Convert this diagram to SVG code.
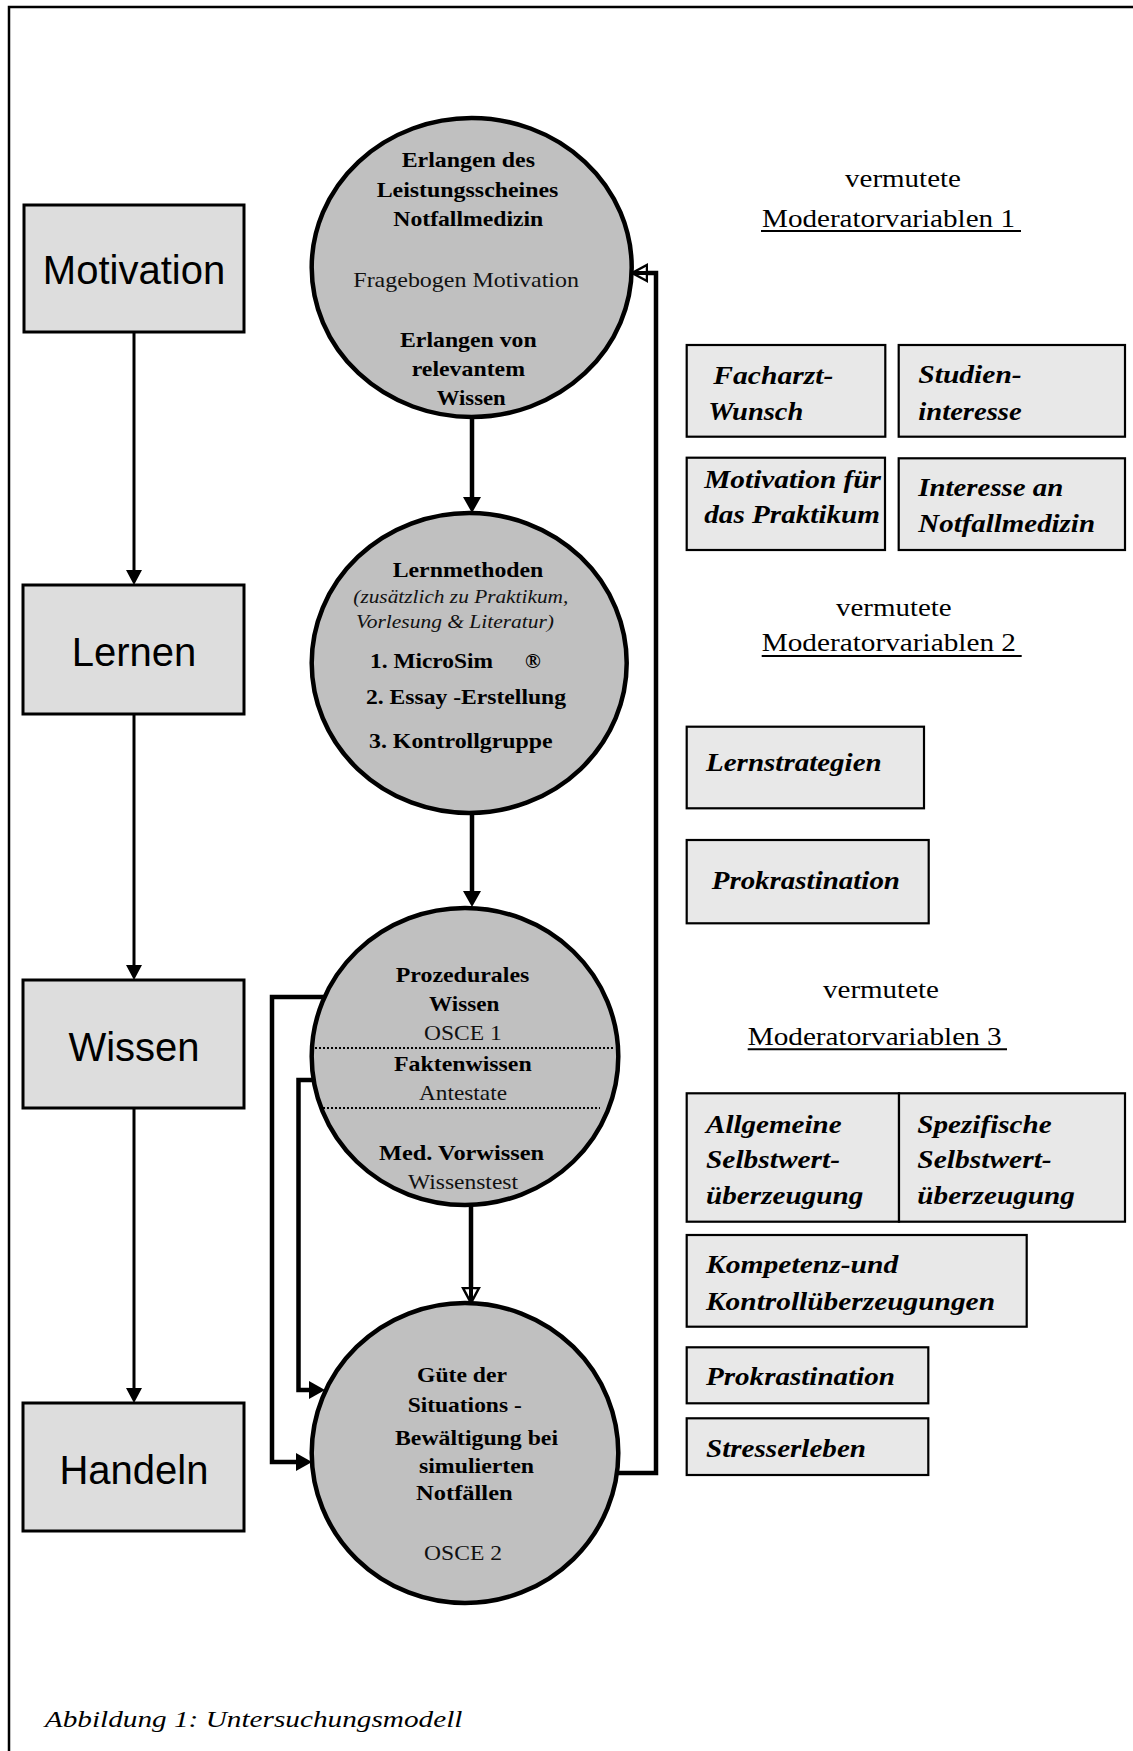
<svg xmlns="http://www.w3.org/2000/svg" width="1133" height="1751" viewBox="0 0 1133 1751">
<style>
.bg{fill:#ffffff}
.frame{fill:none;stroke:#000;stroke-width:2.5}
.lbox{fill:#dddddd;stroke:#000;stroke-width:3}
.rbox{fill:#e8e8e8;stroke:#000;stroke-width:2.2}
.circ{fill:#c0c0c0;stroke:#000;stroke-width:4.5}
.thin{fill:none;stroke:#000;stroke-width:3}
.thick{fill:none;stroke:#000;stroke-width:4.5}
.dot{fill:none;stroke:#000;stroke-width:2;stroke-dasharray:2 2}
.ul{stroke:#000;stroke-width:2}
.big{font-family:"Liberation Sans",Arial,sans-serif;font-size:40px;fill:#000;text-anchor:middle}
.cb{font-family:"Liberation Serif","Times New Roman",serif;font-size:21px;font-weight:bold;fill:#000}
.cr{font-family:"Liberation Serif","Times New Roman",serif;font-size:21px;fill:#111}
.ci{font-family:"Liberation Serif","Times New Roman",serif;font-size:19px;font-style:italic;fill:#111}
.bi{font-family:"Liberation Serif","Times New Roman",serif;font-size:26px;font-weight:bold;font-style:italic;fill:#000}
.mod{font-family:"Liberation Serif","Times New Roman",serif;font-size:26px;fill:#000}
.cap{font-family:"Liberation Serif","Times New Roman",serif;font-size:24px;font-style:italic;fill:#000}
</style>
<defs>
<marker id="aThin" markerUnits="userSpaceOnUse" markerWidth="16" markerHeight="16" viewBox="0 0 16 16" refX="0" refY="8" orient="auto">
<path d="M0,0 L15,8 L0,16 z" fill="#000"/>
</marker>
<marker id="aThick" markerUnits="userSpaceOnUse" markerWidth="17" markerHeight="20" viewBox="0 0 17 20" refX="0" refY="10" orient="auto">
<path d="M0,1 L16,10 L0,19 z" fill="#000"/>
</marker>
<marker id="aHollow" markerUnits="userSpaceOnUse" markerWidth="18" markerHeight="20" viewBox="0 0 18 20" refX="0" refY="10" orient="auto">
<path d="M1,2 L16,10 L1,18 z" fill="#fff" stroke="#000" stroke-width="2.5"/>
<path d="M0,10 L14,10" stroke="#000" stroke-width="4"/>
</marker>
</defs>
<rect class="bg" x="0" y="0" width="1133" height="1751"/>
<path class="frame" d="M9,1760 V7 H1140"/>

<g id="connectors">
<path class="thin" d="M134,332 V570" marker-end="url(#aThin)"/>
<path class="thin" d="M134,714 V965" marker-end="url(#aThin)"/>
<path class="thin" d="M134,1108 V1388" marker-end="url(#aThin)"/>
<path class="thick" d="M472,417 V497" marker-end="url(#aThick)"/>
<path class="thick" d="M472,813 V891" marker-end="url(#aThick)"/>
<path class="thick" d="M471,1205 V1287" marker-end="url(#aHollow)"/>
<path class="thick" d="M618,1473 H656 V273 H648" marker-end="url(#aHollow)"/>
<path class="thick" d="M326,997 H272 V1462 H296" marker-end="url(#aThick)"/>
<path class="thick" d="M315,1080 H298.5 V1390 H309" marker-end="url(#aThick)"/>
</g>

<g id="motivation">
<rect class="lbox" x="24" y="205" width="220" height="127"/>
<text class="big" x="134" y="284">Motivation</text>
</g>
<g id="lernen">
<rect class="lbox" x="23" y="585" width="221" height="129"/>
<text class="big" x="134" y="666">Lernen</text>
</g>
<g id="wissen">
<rect class="lbox" x="23" y="980" width="221" height="128"/>
<text class="big" x="134" y="1061">Wissen</text>
</g>
<g id="handeln">
<rect class="lbox" x="23" y="1403" width="221" height="128"/>
<text class="big" x="134" y="1484">Handeln</text>
</g>

<g id="circle1">
<ellipse class="circ" cx="471.7" cy="267.5" rx="160" ry="149.5"/>
<text class="cb" x="401.7" y="166.7" textLength="133.3" lengthAdjust="spacingAndGlyphs">Erlangen des</text>
<text class="cb" x="376.7" y="196.7" textLength="181.7" lengthAdjust="spacingAndGlyphs">Leistungsscheines</text>
<text class="cb" x="393.3" y="225.7" textLength="150" lengthAdjust="spacingAndGlyphs">Notfallmedizin</text>
<text class="cr" x="353.3" y="286.7" textLength="225.7" lengthAdjust="spacingAndGlyphs">Fragebogen Motivation</text>
<text class="cb" x="400" y="346.7" textLength="136.7" lengthAdjust="spacingAndGlyphs">Erlangen von</text>
<text class="cb" x="411.7" y="376" textLength="113.3" lengthAdjust="spacingAndGlyphs">relevantem</text>
<text class="cb" x="436.7" y="405" textLength="69" lengthAdjust="spacingAndGlyphs">Wissen</text>
</g>

<g id="circle2">
<ellipse class="circ" cx="469.2" cy="663" rx="157.5" ry="150"/>
<text class="cb" x="392.7" y="576.7" textLength="150.6" lengthAdjust="spacingAndGlyphs">Lernmethoden</text>
<text class="ci" x="353.3" y="603.3" textLength="215" lengthAdjust="spacingAndGlyphs">(zusätzlich zu Praktikum,</text>
<text class="ci" x="356" y="628.3" textLength="198" lengthAdjust="spacingAndGlyphs">Vorlesung &amp; Literatur)</text>
<text class="cb" x="370" y="668.3" textLength="123" lengthAdjust="spacingAndGlyphs">1. MicroSim</text>
<text class="cb" x="525" y="668.3">®</text>
<text class="cb" x="366" y="704" textLength="200" lengthAdjust="spacingAndGlyphs">2. Essay -Erstellung</text>
<text class="cb" x="369" y="748.3" textLength="183.7" lengthAdjust="spacingAndGlyphs">3. Kontrollgruppe</text>
</g>

<g id="circle3">
<ellipse class="circ" cx="465" cy="1056.5" rx="153.3" ry="148.5"/>
<path class="dot" d="M315,1048 H613"/>
<path class="dot" d="M323,1108 H600"/>
<text class="cb" x="395.7" y="981.7" textLength="133.6" lengthAdjust="spacingAndGlyphs">Prozedurales</text>
<text class="cb" x="429" y="1010.7" textLength="70.3" lengthAdjust="spacingAndGlyphs">Wissen</text>
<text class="cr" x="424" y="1040" textLength="77.7" lengthAdjust="spacingAndGlyphs">OSCE 1</text>
<text class="cb" x="394" y="1070.7" textLength="137.7" lengthAdjust="spacingAndGlyphs">Faktenwissen</text>
<text class="cr" x="419" y="1100" textLength="88" lengthAdjust="spacingAndGlyphs">Antestate</text>
<text class="cb" x="379" y="1160" textLength="165" lengthAdjust="spacingAndGlyphs">Med. Vorwissen</text>
<text class="cr" x="408" y="1189" textLength="110" lengthAdjust="spacingAndGlyphs">Wissenstest</text>
</g>

<g id="circle4">
<ellipse class="circ" cx="465" cy="1453" rx="153.3" ry="150"/>
<text class="cb" x="417" y="1381.7" textLength="90" lengthAdjust="spacingAndGlyphs">Güte der</text>
<text class="cb" x="407.7" y="1411.7" textLength="114" lengthAdjust="spacingAndGlyphs">Situations -</text>
<text class="cb" x="395" y="1445" textLength="163" lengthAdjust="spacingAndGlyphs">Bewältigung bei</text>
<text class="cb" x="419" y="1472.7" textLength="115" lengthAdjust="spacingAndGlyphs">simulierten</text>
<text class="cb" x="416" y="1500" textLength="96.7" lengthAdjust="spacingAndGlyphs">Notfällen</text>
<text class="cr" x="424" y="1560" textLength="78" lengthAdjust="spacingAndGlyphs">OSCE 2</text>
</g>

<g id="mod1-title">
<text class="mod" x="845" y="186.7" textLength="116" lengthAdjust="spacingAndGlyphs">vermutete</text>
<text class="mod" x="762" y="226.7" textLength="253" lengthAdjust="spacingAndGlyphs">Moderatorvariablen 1</text>
<line class="ul" x1="761" y1="231" x2="1021" y2="231"/>
</g>
<g id="facharzt">
<rect class="rbox" x="686.7" y="345" width="198.6" height="91.7"/>
<text class="bi" x="713.3" y="384" textLength="120" lengthAdjust="spacingAndGlyphs">Facharzt-</text>
<text class="bi" x="708.3" y="420" textLength="95" lengthAdjust="spacingAndGlyphs">Wunsch</text>
</g>
<g id="studien">
<rect class="rbox" x="898.7" y="345" width="226.3" height="91.7"/>
<text class="bi" x="918.3" y="383.3" textLength="103.4" lengthAdjust="spacingAndGlyphs">Studien-</text>
<text class="bi" x="918.3" y="420" textLength="103.4" lengthAdjust="spacingAndGlyphs">interesse</text>
</g>
<g id="motivation-praktikum">
<rect class="rbox" x="686.7" y="457.7" width="198.3" height="92.3"/>
<text class="bi" x="704.3" y="488.3" textLength="176.7" lengthAdjust="spacingAndGlyphs">Motivation für</text>
<text class="bi" x="704.3" y="523.3" textLength="175.7" lengthAdjust="spacingAndGlyphs">das Praktikum</text>
</g>
<g id="interesse">
<rect class="rbox" x="898.7" y="458.3" width="226.3" height="91.7"/>
<text class="bi" x="918.3" y="496" textLength="145" lengthAdjust="spacingAndGlyphs">Interesse an</text>
<text class="bi" x="918.3" y="531.7" textLength="176.7" lengthAdjust="spacingAndGlyphs">Notfallmedizin</text>
</g>

<g id="mod2-title">
<text class="mod" x="836" y="616" textLength="115.7" lengthAdjust="spacingAndGlyphs">vermutete</text>
<text class="mod" x="761.7" y="650.7" textLength="254.3" lengthAdjust="spacingAndGlyphs">Moderatorvariablen 2</text>
<line class="ul" x1="761.7" y1="656" x2="1021.7" y2="656"/>
</g>
<g id="lernstrategien">
<rect class="rbox" x="686.7" y="726.7" width="237.3" height="81.6"/>
<text class="bi" x="706" y="770.7" textLength="175.7" lengthAdjust="spacingAndGlyphs">Lernstrategien</text>
</g>
<g id="prokrastination1">
<rect class="rbox" x="686.7" y="840" width="242" height="83.3"/>
<text class="bi" x="711.7" y="889.3" textLength="188.3" lengthAdjust="spacingAndGlyphs">Prokrastination</text>
</g>

<g id="mod3-title">
<text class="mod" x="823" y="998.3" textLength="116" lengthAdjust="spacingAndGlyphs">vermutete</text>
<text class="mod" x="747.7" y="1045" textLength="254" lengthAdjust="spacingAndGlyphs">Moderatorvariablen 3</text>
<line class="ul" x1="747.7" y1="1049.3" x2="1007" y2="1049.3"/>
</g>
<g id="allgemeine">
<rect class="rbox" x="686.7" y="1093.3" width="212.3" height="128.4"/>
<text class="bi" x="706" y="1132.7" textLength="135.7" lengthAdjust="spacingAndGlyphs">Allgemeine</text>
<text class="bi" x="706" y="1168.3" textLength="134" lengthAdjust="spacingAndGlyphs">Selbstwert-</text>
<text class="bi" x="706" y="1204" textLength="157.3" lengthAdjust="spacingAndGlyphs">überzeugung</text>
</g>
<g id="spezifische">
<rect class="rbox" x="899" y="1093.3" width="226" height="128.4"/>
<text class="bi" x="917.3" y="1132.7" textLength="134.4" lengthAdjust="spacingAndGlyphs">Spezifische</text>
<text class="bi" x="917.3" y="1168.3" textLength="134.4" lengthAdjust="spacingAndGlyphs">Selbstwert-</text>
<text class="bi" x="917.3" y="1204" textLength="157.7" lengthAdjust="spacingAndGlyphs">überzeugung</text>
</g>
<g id="kompetenz">
<rect class="rbox" x="686.7" y="1235" width="340" height="91.7"/>
<text class="bi" x="706" y="1273.3" textLength="192.3" lengthAdjust="spacingAndGlyphs">Kompetenz-und</text>
<text class="bi" x="706" y="1310" textLength="289" lengthAdjust="spacingAndGlyphs">Kontrollüberzeugungen</text>
</g>
<g id="prokrastination2">
<rect class="rbox" x="686.7" y="1347.3" width="241.6" height="56"/>
<text class="bi" x="706" y="1385" textLength="189" lengthAdjust="spacingAndGlyphs">Prokrastination</text>
</g>
<g id="stresserleben">
<rect class="rbox" x="686.7" y="1418.3" width="241.6" height="56.7"/>
<text class="bi" x="706" y="1456.7" textLength="160" lengthAdjust="spacingAndGlyphs">Stresserleben</text>
</g>

<g id="caption">
<text class="cap" x="44.8" y="1727" textLength="417.6" lengthAdjust="spacingAndGlyphs">Abbildung 1: Untersuchungsmodell</text>
</g>
</svg>
